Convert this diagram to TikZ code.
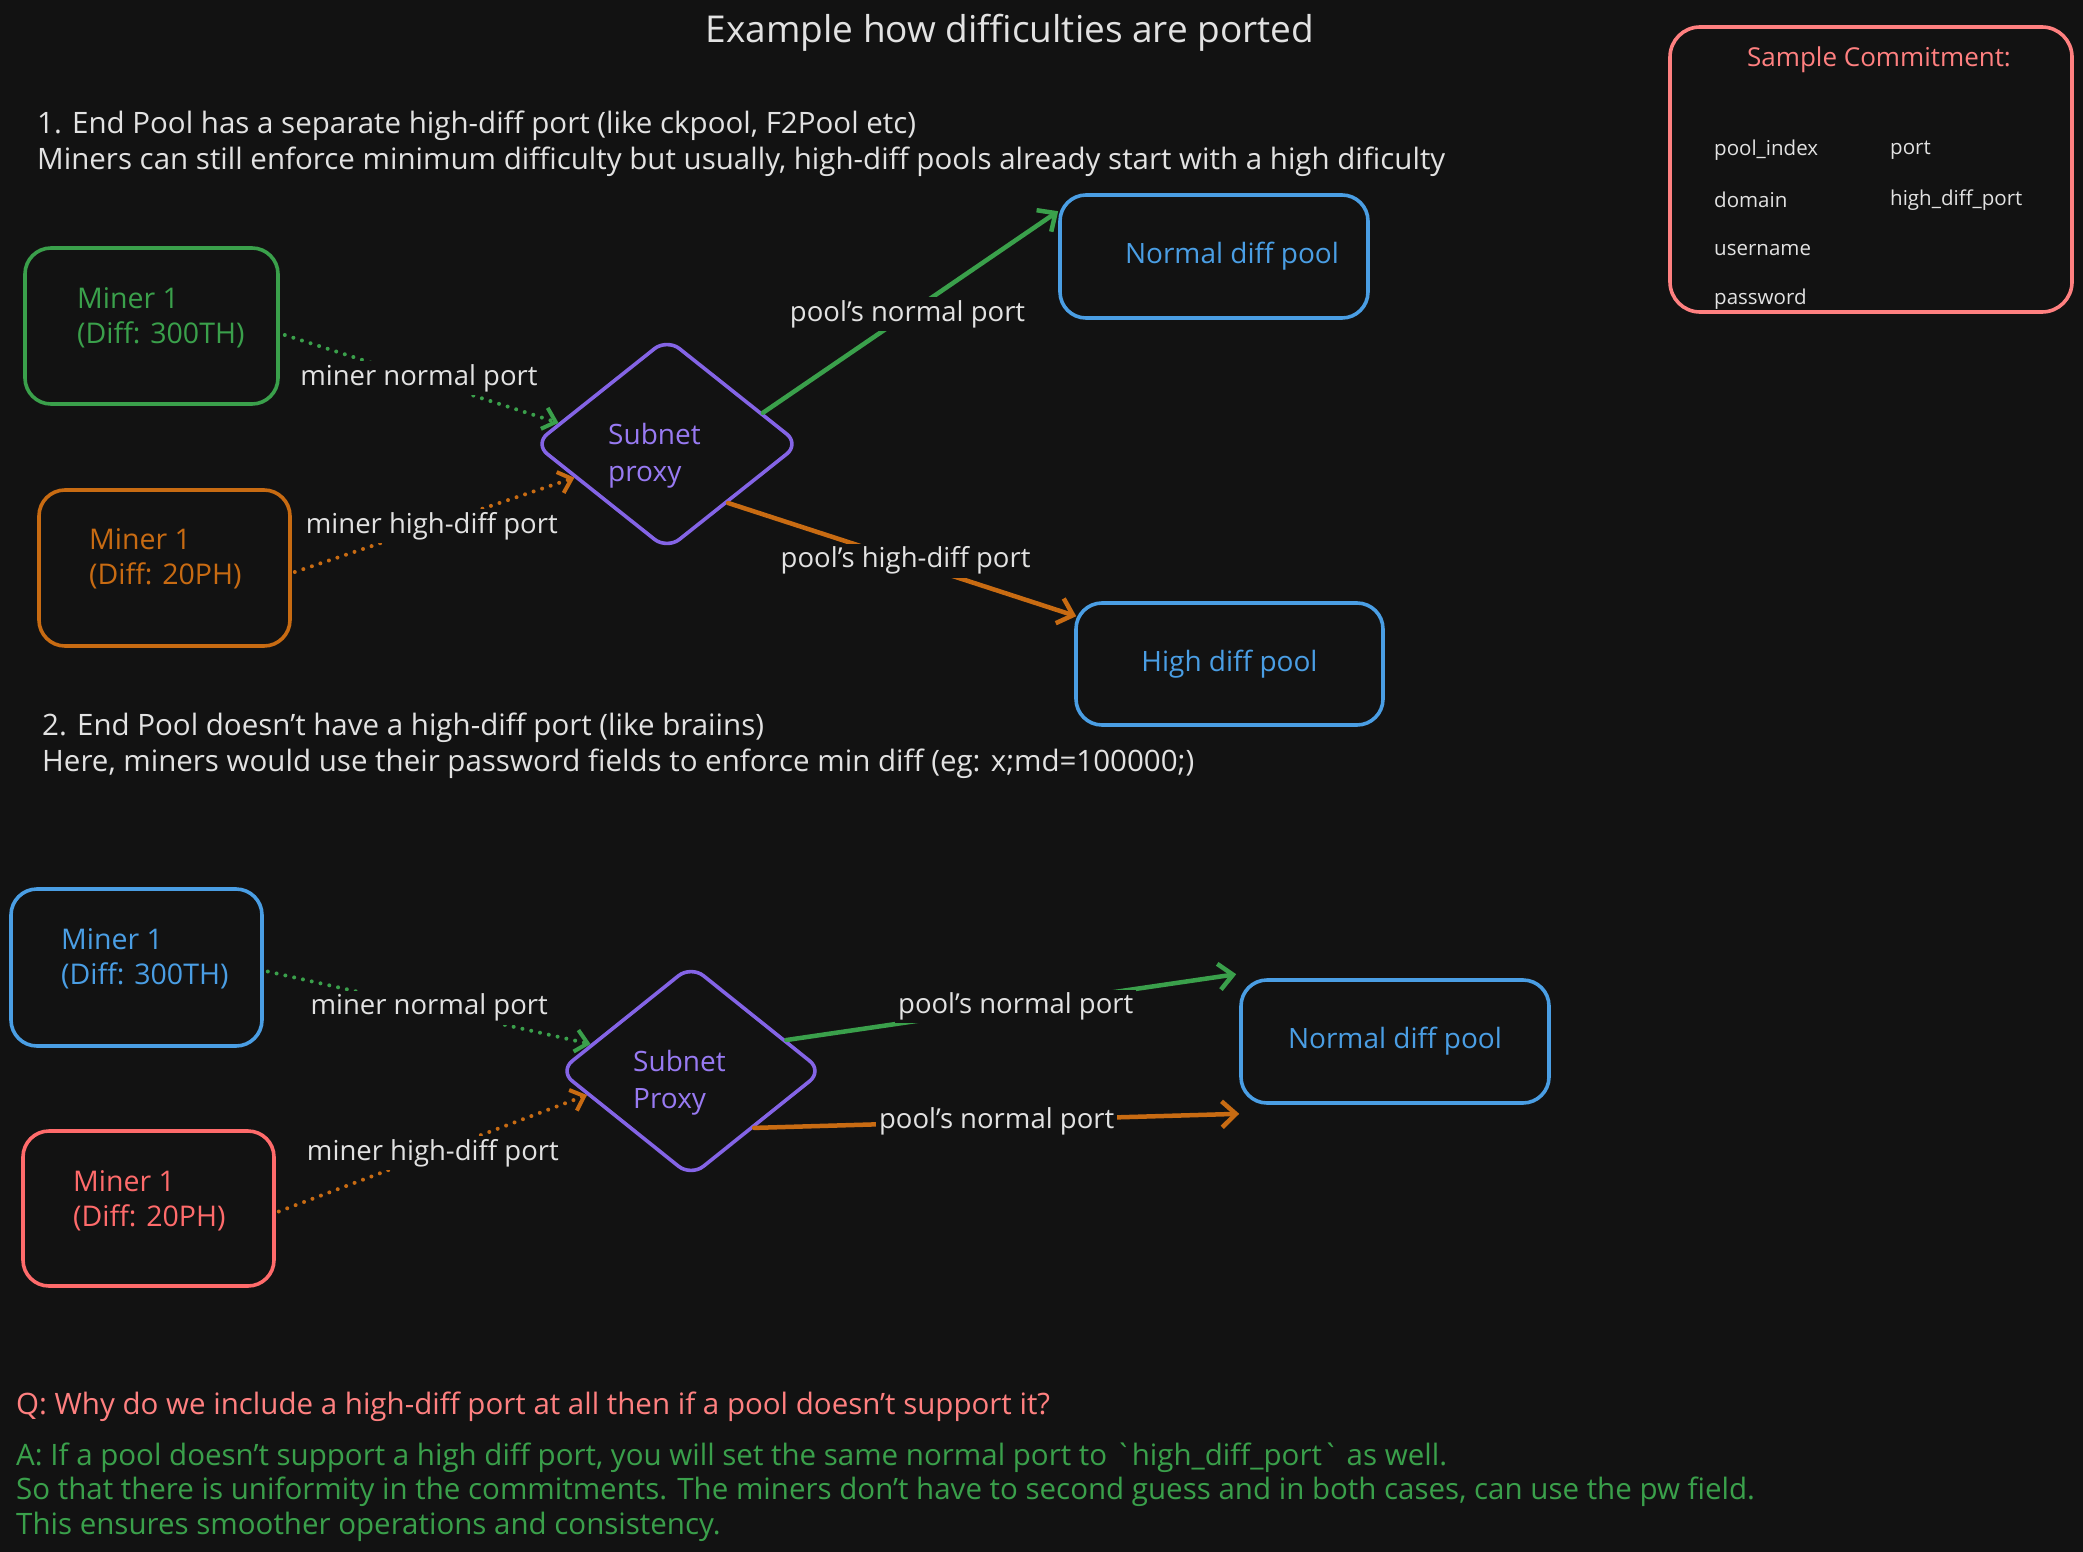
\documentclass[tikz,border=0pt]{standalone}
\usepackage{fontspec}
\setmainfont{Open Sans}
\newfontfamily\rawfont{Open Sans}[Ligatures=TeXOff]
\usetikzlibrary{arrows.meta,shapes.geometric,calc}
\definecolor{bg}{RGB}{18,18,18}
\definecolor{fgw}{RGB}{226,226,226}
\definecolor{cgreen}{RGB}{58,160,75}
\definecolor{corange}{RGB}{200,107,18}
\definecolor{cblue}{RGB}{74,158,228}
\definecolor{cpurple}{RGB}{132,100,230}
\definecolor{cpurpletxt}{RGB}{152,122,242}
\definecolor{cred}{RGB}{255,107,107}
\definecolor{cpink}{RGB}{255,128,128}
\tikzset{
  txt/.style={text=fgw, font=\fontsize{29.5}{36}\selectfont, inner sep=2pt},
  titletxt/.style={text=fgw, font=\fontsize{37}{44}\selectfont, inner sep=2pt},
  smalltxt/.style={text=fgw, font=\fontsize{20.5}{24}\selectfont, inner sep=1pt, anchor=west},
  lbl/.style={text=fgw, font=\fontsize{27.5}{34}\selectfont, fill=bg, inner sep=3pt},
  mtxt/.style={font=\fontsize{28.5}{35}\selectfont, inner sep=2pt, anchor=west, align=left},
  mbox/.style={draw, line width=3.6pt, rounded corners=26pt},
  pbox/.style={draw=cblue, line width=3.6pt, rounded corners=26pt, text=cblue, font=\fontsize{28}{34}\selectfont},
  dmd/.style={diamond, draw=cpurple, line width=3.6pt, rounded corners=16pt},
  dtxt/.style={text=cpurpletxt, align=left, anchor=west, font=\fontsize{28}{37}\selectfont, inner sep=2pt},
  dotline/.style={line width=4pt, line cap=round, dash pattern=on 0pt off 9pt, -{Straight Barb[length=12pt,width=22pt]}},
  solline/.style={line width=4.5pt, line cap=round, -{Straight Barb[length=14pt,width=26pt]}},
}
\begin{document}
\begin{tikzpicture}[x=1pt,y=-1pt]
\fill[bg] (0,0) rectangle (2083,1552);
\useasboundingbox (0,0) rectangle (2083,1552);

% title and section texts
\node[titletxt] (ttl) at (1010,33) {Example how difficulties are ported};
\node[txt, anchor=west, align=left] (t1) at (35,144) {1. End Pool has a separate high-diff port (like ckpool, F2Pool etc)\\Miners can still enforce minimum difficulty but usually, high-diff pools already start with a high dificulty};
\node[txt, anchor=west, align=left] (t2) at (40,746) {2. End Pool doesn't have a high-diff port (like braiins)\\Here, miners would use their password fields to enforce min diff (eg: x;md=100000;)};

% sample commitment
\node[draw=cpink, line width=3.6pt, rounded corners=30pt, minimum width=402, minimum height=285] (cm) at (1871,169.5) {};
\node[text=cpink, font=\fontsize{26}{32}\selectfont] (cmt) at (1879,60) {Sample Commitment:};
\node[smalltxt] (c1) at (1713,150) {pool\_index};
\node[smalltxt] (c2) at (1713,200) {domain};
\node[smalltxt] (c3) at (1713,250) {username};
\node[smalltxt] (c4) at (1713,299) {password};
\node[smalltxt] (c5) at (1889,150) {port};
\node[smalltxt] (c6) at (1889,200) {high\_diff\_port};

% ---------- section 1 ----------
\node[mbox, draw=cgreen, minimum width=253, minimum height=156] (mA) at (151.5,326) {};
\node[mtxt, text=cgreen] (mAt) at (75,318) {Miner 1\\(Diff: 300TH)};
\node[mbox, draw=corange, minimum width=251, minimum height=156] (mB) at (164.5,568) {};
\node[mtxt, text=corange] (mBt) at (87,559) {Miner 1\\(Diff: 20PH)};
\node[dmd, minimum width=266, minimum height=212] (pA) at (667,444) {};
\node[dtxt] (pAt) at (606,456) {Subnet\\proxy};
\node[pbox, minimum width=308, minimum height=123] (poolN) at (1214,256.5) {};
\node[text=cblue, font=\fontsize{28}{34}\selectfont] (poolNt) at (1232,256) {Normal diff pool};
\node[pbox, minimum width=307, minimum height=122] (poolH) at (1229.5,664) {High diff pool};

\draw[dotline, draw=cgreen] ($(mA.east)+(5,9)$) -- (pA.169) node[lbl, pos=0.49] {miner normal port};
\draw[dotline, draw=corange] ($(mB.east)+(3,4)$) -- (pA.200) node[lbl, pos=0.49] {miner high-diff port};
\draw[solline, draw=cgreen] (pA.18) -- ($(poolN.north west)+(0,18)$) node[lbl, pos=0.49] {pool's normal port};
\draw[solline, draw=corange] (pA.-44) -- ($(poolH.north west)+(2,15)$) node[lbl, pos=0.51] {pool's high-diff port};

% ---------- section 2 ----------
\node[mbox, draw=cblue, minimum width=251, minimum height=157] (mC) at (136.5,967.5) {};
\node[mtxt, text=cblue] (mCt) at (59,959) {Miner 1\\(Diff: 300TH)};
\node[mbox, draw=cred, minimum width=251, minimum height=155] (mD) at (148.5,1208.5) {};
\node[mtxt, text=cred] (mDt) at (71,1201) {Miner 1\\(Diff: 20PH)};
\node[dmd, minimum width=264, minimum height=212] (pB) at (691,1071) {};
\node[dtxt] (pBt) at (631,1083) {Subnet\\Proxy};
\node[pbox, minimum width=308, minimum height=123] (poolN2) at (1395,1041.5) {Normal diff pool};

\draw[dotline, draw=cgreen] ($(mC.east)+(4,4)$) -- (pB.165) node[lbl, pos=0.5] {miner normal port};
\draw[dotline, draw=corange] ($(mD.east)+(3,3)$) -- (pB.193) node[lbl, pos=0.5] {miner high-diff port};
\draw[solline, draw=cgreen] (pB.18) -- ($(poolN2.north west)+(-3,-4)$) node[lbl, pos=0.51] {pool's normal port};
\draw[solline, draw=corange] (pB.-42) -- ($(poolN2.south west)+(0,9)$) node[lbl, pos=0.5] {pool's normal port};

% ---------- Q and A ----------
\node[txt, text=cpink, anchor=west] (q) at (14,1407) {Q: Why do we include a high-diff port at all then if a pool doesn't support it?};
\node[txt, text=cgreen, anchor=west, align=left, font=\fontsize{29.5}{34.5}\selectfont] (a) at (14,1492) {A: If a pool doesn't support a high diff port, you will set the same normal port to {\rawfont`}high\_diff\_port{\rawfont`} as well.\\So that there is uniformity in the commitments. The miners don't have to second guess and in both cases, can use the pw field.\\This ensures smoother operations and consistency.};
\end{tikzpicture}
\end{document}
